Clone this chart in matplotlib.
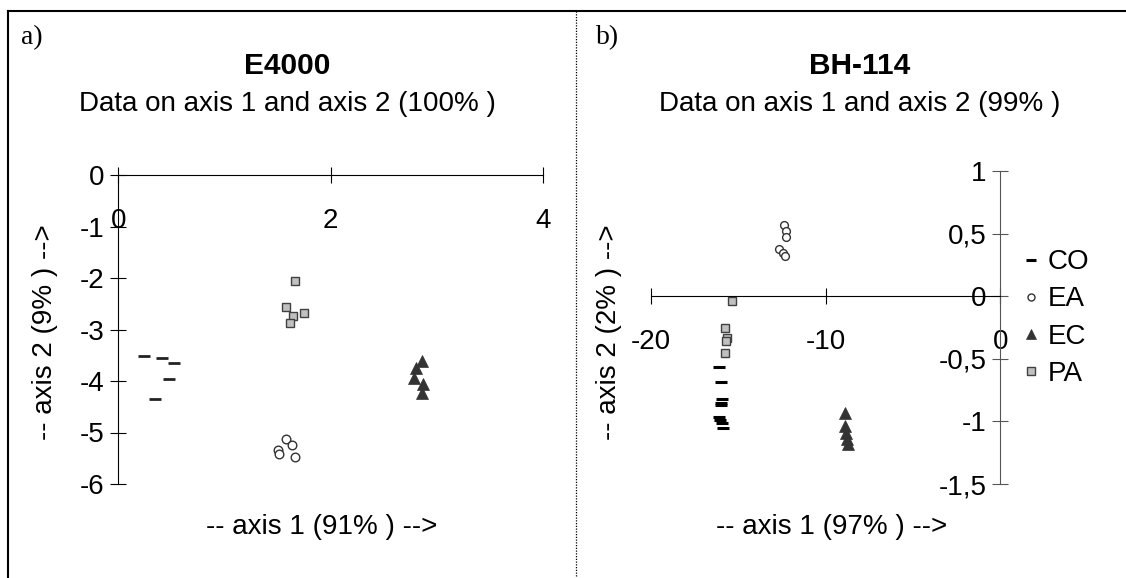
import matplotlib
matplotlib.use("Agg")
import matplotlib.pyplot as plt
from matplotlib.lines import Line2D

plt.rcParams['font.family'] = ['Liberation Sans', 'DejaVu Sans']
plt.rcParams['axes.unicode_minus'] = False

W, H = 1126, 578
DPI = 100

# ---------------- data ----------------
groups = ["CO", "EA", "EC", "PA"]

# panel a) E4000
a_CO_x = [0.245, 0.41, 0.525, 0.477, 0.345]
a_CO_y = [-3.52, -3.56, -3.66, -3.955, -4.34]
a_EA_x = [1.585, 1.635, 1.505, 1.516, 1.67]
a_EA_y = [-5.12, -5.24, -5.34, -5.42, -5.48]
a_EC_x = [2.86, 2.81, 2.79, 2.87, 2.86]
a_EC_y = [-3.62, -3.75, -3.95, -4.06, -4.24]
a_PA_x = [1.667, 1.58, 1.75, 1.65, 1.62]
a_PA_y = [-2.05, -2.56, -2.67, -2.73, -2.88]

# panel b) BH-114
b_CO_x = [-16.08, -16.0, -15.9, -15.98, -16.0, -16.11, -16.04, -15.94, -15.85]
b_CO_y = [-0.563, -0.686, -0.824, -0.851, -0.87, -0.968, -0.99, -1.016, -1.05]
b_EA_x = [-12.36, -12.28, -12.26, -12.64, -12.41, -12.33]
b_EA_y = [0.570, 0.525, 0.477, 0.376, 0.349, 0.322]
b_EC_x = [-8.9, -8.87, -8.82, -8.77, -8.73]
b_EC_y = [-0.93, -1.04, -1.09, -1.14, -1.18]
b_PA_x = [-15.37, -15.75, -15.65, -15.69, -15.77]
b_PA_y = [-0.035, -0.25, -0.33, -0.36, -0.45]

a_xticks = [0, 2, 4]
a_xticklabels = ["0", "2", "4"]
a_yticks = [0, -1, -2, -3, -4, -5, -6]
a_yticklabels = ["0", "-1", "-2", "-3", "-4", "-5", "-6"]
b_xticks = [-20, -10, 0]
b_xticklabels = ["-20", "-10", "0"]
b_yticks = [1, 0.5, 0, -0.5, -1, -1.5]
b_yticklabels = ["1", "0,5", "0", "-0,5", "-1", "-1,5"]

titles = ["E4000", "BH-114"]
subtitles = ["Data on axis 1 and axis 2 (100% )", "Data on axis 1 and axis 2 (99% )"]
xlabels = ["-- axis 1 (91% ) -->", "-- axis 1 (97% ) -->"]
ylabels = ["-- axis 2 (9% ) -->", "-- axis 2 (2% ) -->"]
letters = ["a)", "b)"]

# ---------------- figure ----------------
fig = plt.figure(figsize=(W / DPI, H / DPI), dpi=DPI)
fig.patch.set_facecolor("white")


def rect(x0, x1, ytop, ybot):
    return [x0 / W, (H - ybot) / H, (x1 - x0) / W, (ybot - ytop) / H]


def fx(x):
    return x / W


def fy(y):
    return (H - y) / H


FS = 20
TICKLEN = 12.2
TICKW = 0.8


def setup(ax, xlim, ylim, xt, xtl, yt, ytl, axcolor):
    ax.set_xlim(*xlim)
    ax.set_ylim(*ylim)
    ax.patch.set_alpha(0)
    for s in ["top", "right"]:
        ax.spines[s].set_visible(False)
    ax.spines["left"].set_position(("data", 0))
    ax.spines["bottom"].set_position(("data", 0))
    ax.spines["bottom"].set_linewidth(TICKW)
    ax.spines["bottom"].set_color("black")
    ax.spines["left"].set_linewidth(TICKW)
    ax.spines["left"].set_color(axcolor)
    ax.set_xticks(xt, labels=xtl)
    ax.set_yticks(yt, labels=ytl)
    ax.tick_params(axis="x", direction="inout", length=TICKLEN, width=TICKW,
                   labelsize=FS, pad=17.6, color="black")
    ax.tick_params(axis="y", direction="inout", length=TICKLEN, width=TICKW,
                   labelsize=FS, pad=4.0, color=axcolor)


astyles = {
    "CO": dict(marker="_", color="#222222", markersize=8.6, markeredgewidth=2.0),
    "EA": dict(marker="o", markerfacecolor="white", markeredgecolor="#333333",
               markersize=6.2, markeredgewidth=1.0),
    "EC": dict(marker="^", color="#333333", markersize=8.2, markeredgewidth=0.5),
    "PA": dict(marker="s", markerfacecolor="#c0c0c0", markeredgecolor="#404040",
               markersize=6.4, markeredgewidth=1.0),
}
bstyles = {
    "CO": dict(marker="_", color="black", markersize=8.0, markeredgewidth=2.2),
    "EA": dict(marker="o", markerfacecolor="white", markeredgecolor="#333333",
               markersize=5.6, markeredgewidth=1.0),
    "EC": dict(marker="^", color="#333333", markersize=8.2, markeredgewidth=0.5),
    "PA": dict(marker="s", markerfacecolor="#c0c0c0", markeredgecolor="#404040",
               markersize=6.0, markeredgewidth=1.0),
}

# panel a
axa = fig.add_axes(rect(118.3, 542.7, 175, 484))
setup(axa, (0, 4), (-6, 0), a_xticks, a_xticklabels, a_yticks, a_yticklabels, "black")
a_data = {"CO": (a_CO_x, a_CO_y), "EA": (a_EA_x, a_EA_y),
          "EC": (a_EC_x, a_EC_y), "PA": (a_PA_x, a_PA_y)}
for g in groups:
    axa.plot(*a_data[g], linestyle="none", clip_on=False, **astyles[g])

# panel b
axb = fig.add_axes(rect(650.7, 1000.3, 171.3, 484))
setup(axb, (-20, 0), (-1.5, 1), b_xticks, b_xticklabels, b_yticks, b_yticklabels, "#555555")
b_data = {"CO": (b_CO_x, b_CO_y), "EA": (b_EA_x, b_EA_y),
          "EC": (b_EC_x, b_EC_y), "PA": (b_PA_x, b_PA_y)}
handles = []
for g in groups:
    h, = axb.plot(*b_data[g], linestyle="none", clip_on=False, label=g, **bstyles[g])
    handles.append(h)

# axis labels
for ax, xl, yl, xc, ylx in [(axa, xlabels[0], ylabels[0], 322, 45),
                            (axb, xlabels[1], ylabels[1], 832, 609)]:
    ax.set_xlabel(xl, fontsize=FS)
    ax.xaxis.label.set_verticalalignment("center")
    ax.xaxis.set_label_coords(fx(xc), fy(527), transform=fig.transFigure)
    ax.set_ylabel(yl, fontsize=FS)
    ax.yaxis.label.set_verticalalignment("center")
    ax.yaxis.label.set_horizontalalignment("center")
    ax.yaxis.set_label_coords(fx(ylx), fy(332), transform=fig.transFigure)

# titles
for tx, t, st, let, lx in [(287, titles[0], subtitles[0], letters[0], 21),
                           (860, titles[1], subtitles[1], letters[1], 596)]:
    fig.text(fx(tx), fy(66), t, fontsize=21.5, fontweight="bold", ha="center", va="center")
    fig.text(fx(tx), fy(104), st, fontsize=FS, ha="center", va="center")
    fig.text(fx(lx), fy(38), let, fontsize=20, family="Liberation Serif",
             ha="left", va="center")

# legend
leg = fig.legend(handles=handles, labels=groups, loc="center left",
                 bbox_to_anchor=(fx(1023), fy(318)), frameon=False,
                 fontsize=FS, handlelength=0.6, handletextpad=0.3,
                 labelspacing=0.4, borderpad=0, borderaxespad=0, markerscale=0.9)

# frame lines
fig.add_artist(Line2D([fx(8), fx(1126)], [fy(11), fy(11)], color="black", lw=1.5))
fig.add_artist(Line2D([fx(8), fx(8)], [fy(11), fy(578)], color="black", lw=1.5))
fig.add_artist(Line2D([fx(576), fx(576)], [fy(11), fy(578)], color="black", lw=0.9,
                      linestyle=(0, (1, 1.2))))

fig.savefig("out.png", dpi=DPI, facecolor="white")
